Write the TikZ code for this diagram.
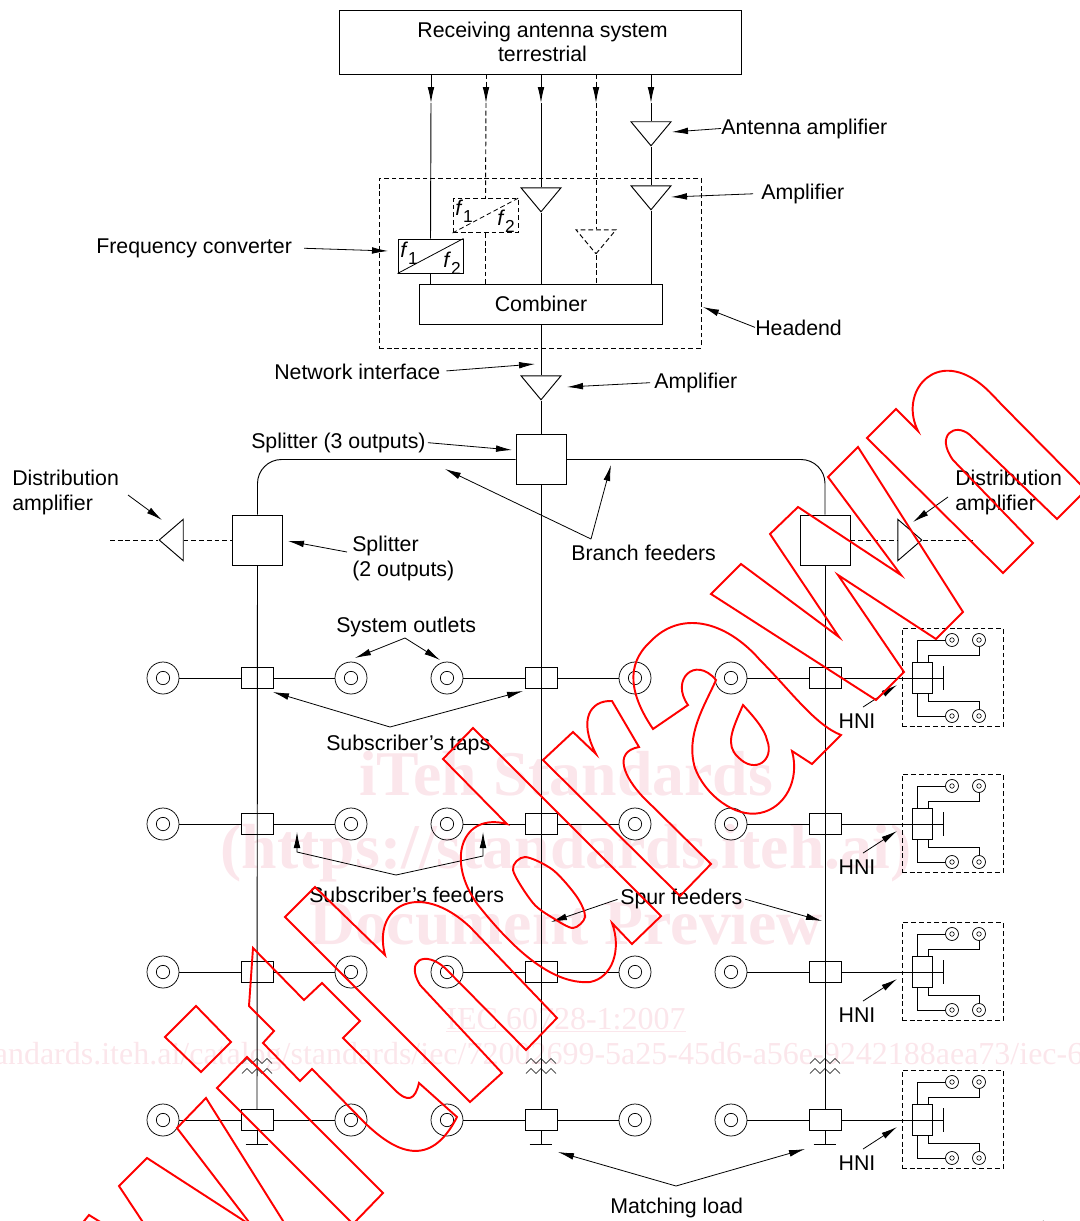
\documentclass[tikz,border=0pt]{standalone}
\usepackage{fontspec}
\setmainfont{Liberation Sans}
\newfontfamily\wmfont{Liberation Serif}
\usetikzlibrary{arrows.meta,shapes.geometric}
\definecolor{wmpink}{HTML}{FBE6EB}
\newcommand{\freq}[1]{\textit{f}\raisebox{-0.6ex}{\fontsize{13}{13}\selectfont #1}}
\tikzset{
  dashed/.style={dash pattern=on 3.6pt off 2.2pt},
  wire/.style={line width=0.7pt},
  leader/.style={line width=0.6pt, -{Latex[length=12pt,width=5pt]}},
  blockbox/.style={draw, wire, inner sep=0pt, align=center, font=\fontsize{16}{18}\selectfont},
  lbl/.style={inner sep=0pt, align=left, yshift=-0.75pt, font=\fontsize{16}{18.75}\selectfont},
  amp/.style={draw, wire, inner sep=0pt, isosceles triangle, isosceles triangle stretches,
    shape border rotate=270, minimum width=30pt, minimum height=18pt},
  distamp/.style={draw, wire, inner sep=0pt, isosceles triangle, isosceles triangle stretches,
    minimum width=31pt, minimum height=18pt},
  splitbox/.style={draw, wire, minimum size=37.5pt, inner sep=0pt},
  tapbox/.style={draw, wire, minimum width=24pt, minimum height=15.75pt, inner sep=0pt},
  convbox/.style={draw, wire, minimum width=48.75pt, minimum height=25.5pt, inner sep=0pt},
  outlet/.style={draw, line width=0.55pt, circle, minimum size=24pt, inner sep=0pt},
  outletcore/.style={draw, line width=0.55pt, circle, minimum size=10pt, inner sep=0pt},
  hnioutlet/.style={draw, line width=0.55pt, circle, minimum size=9.75pt, inner sep=0pt},
  hnicore/.style={draw, line width=0.45pt, circle, minimum size=3.4pt, inner sep=0pt},
  stamp/.style={draw=red, line width=1.45pt, line join=miter},
  wmbig/.style={text=wmpink, inner sep=0pt, anchor=base, font=\wmfont\bfseries\fontsize{47.8}{48}\selectfont},
  wmsmall/.style={text=wmpink, inner sep=0pt, anchor=base, font=\wmfont\fontsize{24}{24}\selectfont}
}
\begin{document}
\begin{tikzpicture}[x=0.75pt, y=-0.75pt]
  \clip (0,0) rectangle (1080,1221);

  % --- faint text behind the drawing ---
  \node[wmbig] (wmA) at (566,795) {iTeh Standards};
  \node[wmbig] (wmB) at (566,868.5) {(https://standards.iteh.ai)};
  \node[wmbig] (wmC) at (566,944) {Document Preview};
  \node[wmsmall] (wmD) at (566,1029) {\underline{IEC 60728-1:2007}};
  \node[wmsmall] (wmE) at (566,1064) {https://standards.iteh.ai/catalog/standards/iec/72002699-5a25-45d6-a56e-9242188aea73/iec-60728-1-2007};

  % --- headend ---
  \node[blockbox, minimum width=301pt, minimum height=48pt] (ant) at (540.5,42)
    {\hspace*{3pt}Receiving antenna system\\\hspace*{3pt}terrestrial};
  \node[blockbox, minimum width=182pt, minimum height=30pt] (comb) at (541,304) {Combiner};
  \node[draw, wire, dashed, minimum width=241.5pt, minimum height=127.5pt] (head) at (540,263) {};

  \node[convbox] (convA) at (430.5,256) {};
  \node[convbox, dashed] (convB) at (485.5,215.5) {};
  \draw[line width=0.6pt] (convA.south west) -- (convA.north east);
  \draw[line width=0.6pt, dashed] (convB.south west) -- (convB.north east);
  \node[lbl] (fa) at (409,252) {\freq{1}};
  \node[lbl] (fb) at (452,262) {\freq{2}};
  \node[lbl] (fc) at (464,210) {\freq{1}};
  \node[lbl] (fd) at (506,220) {\freq{2}};

  \node[amp, anchor=apex] (ampA) at (541,213) {};
  \node[amp, dashed, anchor=apex] (ampB) at (596,255) {};
  \node[amp, anchor=apex] (ampC) at (651,147) {};
  \node[amp, anchor=apex] (ampD) at (651,211) {};
  \node[amp, anchor=apex] (ampN) at (541,401) {};

  % feeds from the antenna box
  \foreach \t/\xpos/\sty in {a/431/solid, b/486/dashed, c/541/solid, d/596/dashed, e/651/solid}{
    \coordinate (feed\t) at (\xpos,74);
    \coordinate (tip\t) at (\xpos,103);
    \draw[wire, \sty, -{Latex[length=12pt,width=5pt]}] (feed\t) -- (tip\t);
  }
  \draw[wire] (tipa) -- (convA.north);
  \draw[wire] (convA.south) -- (convA.south |- comb.north);
  \draw[wire, dashed] (tipb) -- (convB.north);
  \draw[wire, dashed] (convB.south) -- (convB.south |- comb.north);
  \draw[wire] (tipc) -- (ampA.lower side);
  \draw[wire] (ampA.apex) -- (ampA.apex |- comb.north);
  \draw[wire, dashed] (tipd) -- (ampB.lower side);
  \draw[wire, dashed] (ampB.apex) -- (ampB.apex |- comb.north);
  \draw[wire] (tipe) -- (ampC.lower side);
  \draw[wire] (ampC.apex) -- (ampD.lower side);
  \draw[wire] (ampD.apex) -- (ampD.apex |- comb.north);
  \draw[wire] (comb.south) -- (ampN.lower side);

  % --- splitters and branch feeders ---
  \node[splitbox] (splitC) at (541,459.5) {};
  \node[splitbox] (splitL) at (257.5,540) {};
  \node[splitbox] (splitR) at (825,540) {};
  \draw[wire] (ampN.apex) -- (splitC.north);
  \draw[wire, rounded corners=18pt] (splitC.west) -| (splitL.north);
  \draw[wire, rounded corners=18pt] (splitC.east) -| (splitR.north);

  \node[distamp, shape border rotate=180, anchor=apex] (distL) at (158,540) {};
  \node[distamp, anchor=apex] (distR) at (923,540) {};
  \coordinate (endL) at (110,540);
  \coordinate (endR) at (973,540);
  \draw[wire, dashed] (endL) -- (distL.apex);
  \draw[wire, dashed] (distL.lower side) -- (splitL.west);
  \draw[wire, dashed] (splitR.east) -- (distR.lower side);
  \draw[wire, dashed] (distR.apex) -- (endR);

  % --- rows of taps, outlets and home network interfaces ---
  \foreach \row/\ypos in {1/678,2/824,3/972,4/1120}{
    \node[tapbox] (tapL\row) at (257,\ypos) {};
    \node[tapbox] (tapC\row) at (541,\ypos) {};
    \node[tapbox] (tapR\row) at (825,\ypos) {};
    \foreach \col/\xpos in {a/163,b/351,c/447,d/635,e/731}{
      \node[outlet] (out\row\col) at (\xpos,\ypos) {};
      \node[outletcore] (core\row\col) at (\xpos,\ypos) {};
    }
    \draw[wire] (out\row a) -- (tapL\row);
    \draw[wire] (tapL\row) -- (out\row b);
    \draw[wire] (out\row c) -- (tapC\row);
    \draw[wire] (tapC\row) -- (out\row d);
    \draw[wire] (out\row e) -- (tapR\row);

    \node[draw, wire, dashed, minimum width=75.75pt, minimum height=73.5pt] (hniBox\row) at (952.5,\ypos-0.5) {};
    \node[draw, wire, minimum width=15pt, minimum height=23.25pt] (hniTap\row) at (922,\ypos) {};
    \coordinate (hniEnd\row) at (943,\ypos);
    \coordinate (hniBarA\row) at (943,\ypos-12);
    \coordinate (hniBarB\row) at (943,\ypos+12);
    \draw[wire] (tapR\row) -- (hniEnd\row);
    \draw[wire] (hniBarA\row) -- (hniBarB\row);
    \foreach \h/\xpos/\dy in {p/952/-38,q/979/-38,r/952/38,s/979/38}{
      \node[hnioutlet] (hni\h\row) at (\xpos,\ypos+\dy) {};
      \node[hnicore] (hnic\h\row) at (\xpos,\ypos+\dy) {};
    }
    \draw[wire] ([xshift=-3.75pt]hniTap\row.north) |- (hnip\row.west);
    \draw[wire] ([xshift=-3.75pt]hniTap\row.south) |- (hnir\row.west);
    \draw[wire] ([xshift=4.5pt]hniTap\row.north) -- ++(0,-7) -| (hniq\row.south);
    \draw[wire] ([xshift=4.5pt]hniTap\row.south) -- ++(0,7) -| (hnis\row.north);

    \node[lbl, anchor=base] (hniLbl\row) at (857,\ypos+49) {HNI};
    \coordinate (hniTip\row) at (897,\ypos+7);
    \draw[leader] ([xshift=4.5pt,yshift=4.5pt]hniLbl\row.north) -- (hniTip\row);
  }
  \draw[wire] (splitL.south) -- (tapL4.north);
  \draw[wire] (splitC.south) -- (tapC4.north);
  \draw[wire] (splitR.south) -- (tapR4.north);

  % matching loads and the marks on the feeders
  \foreach \n/\xpos in {L/257,C/541,R/825}{
    \coordinate (gnd\n) at (\xpos,1144);
    \draw[wire] (tap\n4.south) -- (gnd\n);
    \draw[wire] ([xshift=-8.5pt]gnd\n) -- ([xshift=8.5pt]gnd\n);
    \foreach \ypos in {1061,1071}
      \draw[line width=0.5pt] (\xpos-15,\ypos+2.5) -- ++(5,-5) -- ++(5,5) -- ++(5,-5) -- ++(5,5) -- ++(5,-5) -- ++(5,5);
  }

  % --- labels and their arrows ---
  \node[lbl, anchor=base west] (lblAnt) at (721,133) {Antenna amplifier};
  \coordinate (tAnt) at (672,132);
  \draw[leader] (lblAnt.west) -- (tAnt);
  \node[lbl, anchor=base west] (lblAmpD) at (761,198) {Amplifier};
  \coordinate (tAmpD) at (671,197);
  \draw[leader, shorten <=6pt] (lblAmpD.west) -- (tAmpD);
  \node[lbl, anchor=base west] (lblFreq) at (96,252) {Frequency converter};
  \coordinate (tFreq) at (388,251);
  \draw[leader, shorten <=9pt] (lblFreq.east) -- (tFreq);
  \node[lbl, anchor=base west] (lblHead) at (755,334) {Headend};
  \coordinate (tHead) at (703,307);
  \draw[leader] (lblHead.west) -- (tHead);
  \node[lbl, anchor=base west] (lblNet) at (274,378) {Network interface};
  \coordinate (tNet) at (535,364);
  \draw[leader, shorten <=4.5pt] (lblNet.east) -- (tNet);
  \node[lbl, anchor=base west] (lblAmpN) at (654,387) {Amplifier};
  \coordinate (tAmpN) at (567,387);
  \draw[leader, shorten <=3pt] (lblAmpN.west) -- (tAmpN);
  \node[lbl, anchor=base west] (lblSpl3) at (251,447) {Splitter (3 outputs)};
  \coordinate (tSpl3) at (512,450);
  \draw[leader, shorten <=1.5pt] (lblSpl3.east) -- (tSpl3);

  \node[lbl, anchor=base west] (lblDistL) at (12,509.5) {Distribution\\amplifier};
  \coordinate (sDistL) at (128,495);
  \coordinate (tDistL) at (162,520);
  \draw[leader] (sDistL) -- (tDistL);
  \node[lbl, anchor=base west] (lblDistR) at (955,509.5) {Distribution\\amplifier};
  \coordinate (sDistR) at (948,497);
  \coordinate (tDistR) at (913,522);
  \draw[leader] (sDistR) -- (tDistR);
  \node[lbl, anchor=base west] (lblSpl2) at (352,575.5) {Splitter\\(2 outputs)};
  \coordinate (sSpl2) at (347,552);
  \coordinate (tSpl2) at (288,541);
  \draw[leader] (sSpl2) -- (tSpl2);

  \node[lbl, anchor=base west] (lblBranch) at (571,559) {Branch feeders};
  \coordinate (tBrA) at (445,469);
  \coordinate (tBrB) at (611,465);
  \coordinate (apxBr) at (591,539);
  \draw[leader] (apxBr) -- (tBrA);
  \draw[leader] (apxBr) -- (tBrB);

  \node[lbl, anchor=base west] (lblOutlets) at (336,631) {System outlets};
  \coordinate (apxOut) at (405,638);
  \coordinate (tOutA) at (355,658);
  \coordinate (tOutB) at (440,660);
  \draw[leader] (apxOut) -- (tOutA);
  \draw[leader] (apxOut) -- (tOutB);

  \node[lbl, anchor=base west] (lblTaps) at (326,749) {Subscriber's taps};
  \coordinate (apxTap) at (390,727);
  \coordinate (tTapA) at (273,692);
  \coordinate (tTapB) at (523,691);
  \draw[leader] (apxTap) -- (tTapA);
  \draw[leader] (apxTap) -- (tTapB);

  \node[lbl, anchor=base west] (lblSub) at (309,901) {Subscriber's feeders};
  \coordinate (apxSub) at (396,875);
  \coordinate (tSubA) at (297,832);
  \coordinate (tSubB) at (483,832);
  \draw[leader] (apxSub) -- (297,852) -- (tSubA);
  \draw[leader] (apxSub) -- (483,856) -- (tSubB);

  \node[lbl, anchor=base west] (lblSpur) at (620,903) {Spur feeders};
  \coordinate (tSpurA) at (551,922);
  \coordinate (tSpurB) at (822,921);
  \draw[leader, shorten <=2pt] (lblSpur.west) -- (tSpurA);
  \draw[leader, shorten <=2pt] (lblSpur.east) -- (tSpurB);

  \node[lbl, anchor=base west] (lblMatch) at (610,1212) {Matching load};
  \coordinate (apxMatch) at (676,1186);
  \coordinate (tMatchA) at (558,1152);
  \coordinate (tMatchB) at (805,1149);
  \draw[leader] (apxMatch) -- (tMatchA);
  \draw[leader] (apxMatch) -- (tMatchB);

  \node[inner sep=0pt, anchor=base west, font=\fontsize{11.6}{12}\selectfont] (lblIec) at (970,1232) {IEC\hspace{7pt}1407/07};

  % --- red outlined word across the sheet ---
  % W
  \draw[stamp] (300,1248) -- (206,1098) -- (177,1128) -- (252,1226) -- (147,1158) -- (119,1186) -- (160,1248);
  \draw[stamp] (80,1226) -- (89,1215) -- (110,1228);
  % i
  \draw[stamp] (196,1006) -- (231,1042) -- (201,1072) -- (165,1037) -- cycle;
  \draw[stamp] (247,1057) -- (383,1193) -- (353,1224) -- (217,1088) -- cycle;
  % t
  \draw[stamp] (253,948) -- (249,1006) -- (274,1031) -- (263,1043) -- (300,1081) -- (312,1069) -- (365,1123)
    .. controls (395,1152) and (430,1170) .. (457,1117) -- (419,1083)
    .. controls (415,1100) and (408,1103) .. (395,1090) -- (343,1038) -- (360,1021) -- (322,983) -- (304,1000) -- cycle;
  % h
  \draw[stamp] (285,917) -- (315,887) -- (385,955) .. controls (372,905) and (420,880) .. (470,927)
    -- (557,1018) -- (526,1050) -- (445,968) .. controls (425,950) and (405,960) .. (420,985)
    -- (502,1073) -- (470,1102) -- cycle;
  % d
  \draw[stamp] (507,824) .. controls (462,812) and (445,860) .. (478,905)
    .. controls (510,945) and (550,985) .. (590,982) .. controls (612,978) and (622,950) .. (612,923)
    -- (632,944) -- (661,916) -- (473,728) -- (443,759) -- cycle;
  \draw[stamp] plot[smooth cycle] coordinates {(525,857) (513,870) (533,903) (553,918) (573,928) (585,917) (577,897) (553,870)};
  % r
  \draw[stamp] (543,760) -- (573,732) -- (596,754) .. controls (578,720) and (590,700) .. (612,701)
    -- (639,747) .. controls (612,752) and (625,778) .. (643,797) -- (711,864) -- (680,896) -- cycle;
  % a
  \draw[stamp] (653,729) -- (688,705) .. controls (670,680) and (695,655) .. (716,680)
    .. controls (705,705) and (685,735) .. (695,768) .. controls (705,795) and (735,818) .. (760,813)
    .. controls (785,808) and (800,780) .. (792,751) -- (812,764) -- (841,735)
    .. controls (815,725) and (790,690) .. (760,660) .. controls (725,620) and (680,610) .. (650,642)
    .. controls (625,665) and (630,695) .. cycle;
  \draw[stamp] (743,705) .. controls (732,730) and (725,745) .. (738,757)
    .. controls (755,775) and (775,760) .. (767,740) .. controls (765,730) and (755,718) .. cycle;
  % w
  \draw[stamp] (711,594) -- (741,564) -- (839,637) -- (770,534) -- (798,507) -- (901,575) -- (828,477)
    -- (858,447) -- (963,612) -- (936,639) -- (838,575) -- (904,672) -- (876,700) -- cycle;
  % n
  \draw[stamp] (867,438) -- (896,409) -- (918,431) .. controls (900,395) and (930,355) .. (970,377)
    .. controls (985,385) and (995,398) .. (1003,406) -- (1086,490) -- (1057,519) -- (970,435)
    .. controls (955,422) and (935,435) .. (953,460) -- (1033,543) -- (1003,573) -- cycle;
\end{tikzpicture}
\end{document}
